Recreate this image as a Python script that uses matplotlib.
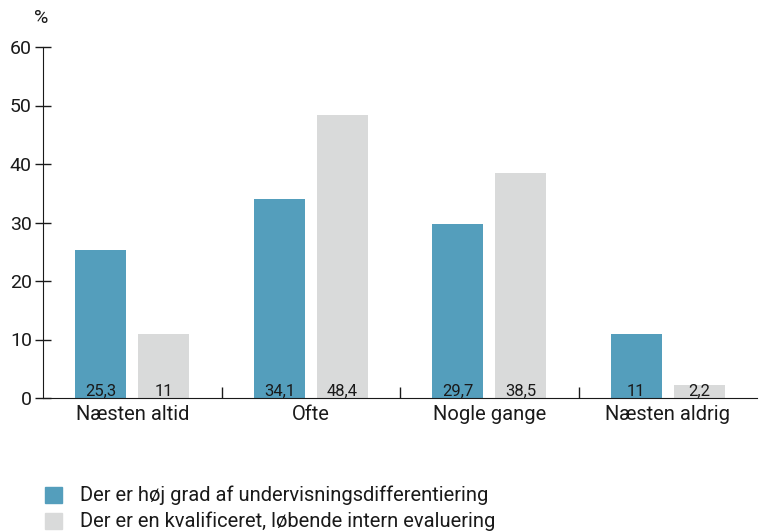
import matplotlib
matplotlib.use("Agg")
import matplotlib.pyplot as plt
import numpy as np
from matplotlib.patches import Rectangle

categories = ["Næsten altid", "Ofte", "Nogle gange", "Næsten aldrig"]
differentiering = [25.3, 34.1, 29.7, 11]
evaluering = [11, 48.4, 38.5, 2.2]
labels_diff = ["25,3", "34,1", "29,7", "11"]
labels_eval = ["11", "48,4", "38,5", "2,2"]
series_names = ["Der er høj grad af undervisningsdifferentiering",
                "Der er en kvalificeret, løbende intern evaluering"]

blue = "#549ebc"
grey = "#d9dada"
txt = "#1a1a1a"

plt.rcParams['font.family'] = ['Roboto', 'DejaVu Sans']

fig = plt.figure(figsize=(7.59, 5.32), dpi=100)
ax = fig.add_axes([43 / 759, 1 - 398 / 532, 714 / 759, 351 / 532])

x = np.arange(len(categories))
w = 0.285
off = 0.176
ax.bar(x - off, differentiering, w, color=blue)
ax.bar(x + off, evaluering, w, color=grey)

for i in range(len(categories)):
    ax.text(x[i] - off, -0.2, labels_diff[i], ha="center", va="bottom", fontsize=12, color=txt)
    ax.text(x[i] + off, -0.2, labels_eval[i], ha="center", va="bottom", fontsize=12, color=txt)

ax.set_xlim(-0.5, len(categories) - 0.5)
ax.set_ylim(0, 60)
ax.set_yticks(range(0, 61, 10))
ax.tick_params(axis="y", direction="inout", length=12, width=1, labelsize=14, colors=txt, pad=2)
ax.set_xticks(x)
ax.set_xticklabels(categories, fontsize=14.5, color=txt)
ax.tick_params(axis="x", length=0, pad=5)
# separators between categories
ax.set_xticks(np.arange(0.5, len(categories) - 0.5, 1), minor=True)
ax.tick_params(axis="x", which="minor", direction="in", length=8, width=1, color=txt)

for s in ["top", "right"]:
    ax.spines[s].set_visible(False)
ax.spines["left"].set_color(txt)
ax.spines["bottom"].set_color(txt)

fig.text(41 / 759, 1 - 18 / 532, "%", ha="center", va="center", fontsize=14, color=txt)

# legend
fig.patches.append(Rectangle((45 / 759, 1 - 503 / 532), 17 / 759, 16 / 532,
                             transform=fig.transFigure, color=blue))
fig.patches.append(Rectangle((45 / 759, 1 - 529 / 532), 17 / 759, 16 / 532,
                             transform=fig.transFigure, color=grey))
fig.text(80 / 759, 1 - 495 / 532, series_names[0], va="center", fontsize=14.5, color=txt)
fig.text(80 / 759, 1 - 521 / 532, series_names[1], va="center", fontsize=14.5, color=txt)

fig.savefig("out.png", dpi=100)
